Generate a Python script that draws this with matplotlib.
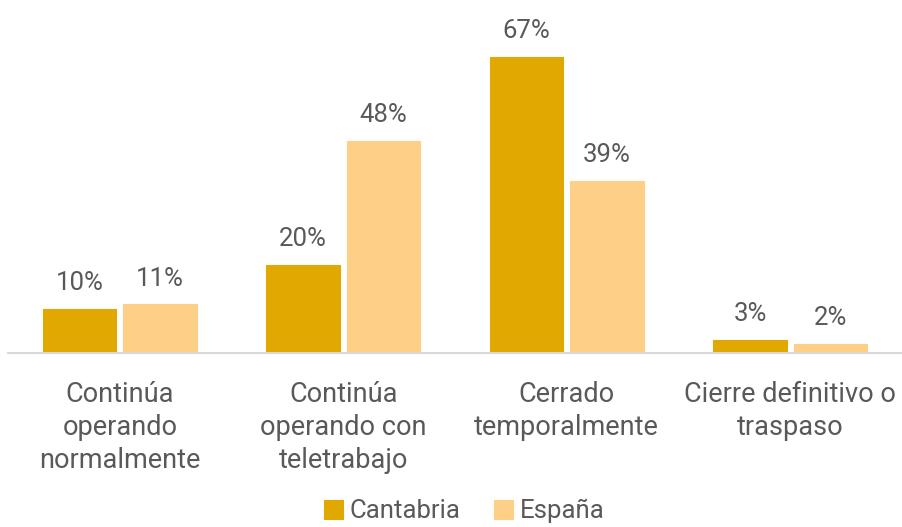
import matplotlib
matplotlib.use("Agg")
import matplotlib.pyplot as plt
import numpy as np

categories = ["Continúa\noperando\nnormalmente", "Continúa\noperando con\nteletrabajo",
              "Cerrado\ntemporalmente", "Cierre definitivo o\ntraspaso"]
cantabria = [10, 20, 67, 3]
espana = [11, 48, 39, 2]
series_names = ["Cantabria", "España"]
colors = ["#E0A800", "#FECF86"]

plt.rcParams['font.family'] = ['Roboto', 'DejaVu Sans']
txt = "#595959"

fig = plt.figure(figsize=(9.02, 5.27), dpi=100)
ax = fig.add_axes([8/902, (527-353)/527, 894/902, 353/527])
x = np.arange(len(categories))
w = 0.327
off = 0.18
for vals, c, o, name in [(cantabria, colors[0], -off, series_names[0]), (espana, colors[1], off, series_names[1])]:
    bars = ax.bar(x + o, vals, width=w, color=c, edgecolor=c, linewidth=0.8, label=name, zorder=2)
    for b, v in zip(bars, vals):
        ax.annotate(f"{v}%", (b.get_x() + b.get_width()/2, v), xytext=(0, 10),
                    textcoords="offset points", ha="center", va="bottom",
                    fontsize=18.5, color="#595959")

ax.set_xlim(-0.5, 3.5)
ax.set_ylim(0, 80)
ax.set_yticks([])
ax.set_xticks(x)
ax.set_xticklabels(categories, fontsize=19.5, color=txt, linespacing=1.3)
ax.tick_params(axis='x', length=0, pad=20)
for s in ["top", "right", "left"]:
    ax.spines[s].set_visible(False)
ax.spines["bottom"].set_color("#D9D9D9")
ax.spines["bottom"].set_linewidth(1.5)

leg = fig.legend(loc="center", bbox_to_anchor=(464/902, 1 - 511/527), ncol=2, frameon=False,
                 fontsize=18.5, handlelength=0.75, handleheight=0.75, handletextpad=0.25,
                 columnspacing=1.3, borderpad=0.2)
for t in leg.get_texts():
    t.set_color(txt)

fig.savefig("out.png", dpi=100)
